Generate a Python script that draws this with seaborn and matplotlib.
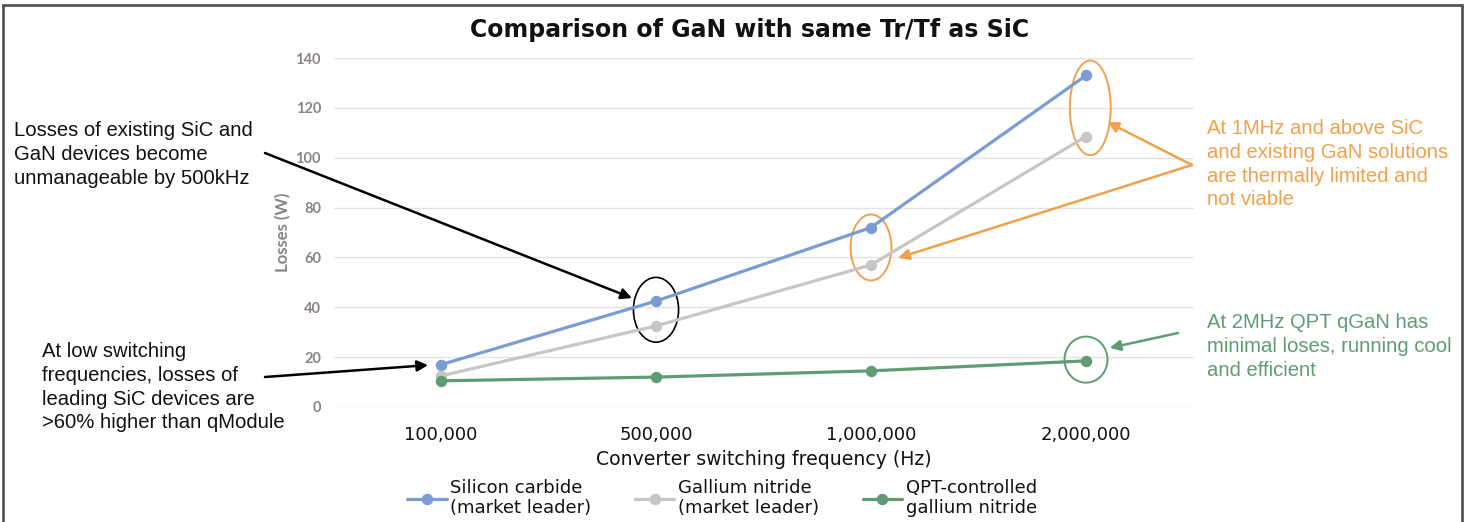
import pandas as pd
import matplotlib.pyplot as plt
import seaborn as sns
from matplotlib.patches import Ellipse, Rectangle

# data
freq_labels = ["100,000", "500,000", "1,000,000", "2,000,000"]
sic_losses = [17, 42.5, 72, 133]
gan_losses = [12.5, 32.5, 57, 108.5]
qpt_losses = [10.5, 12, 14.5, 18.5]
series_names = ["Silicon carbide\n(market leader)",
                "Gallium nitride\n(market leader)",
                "QPT-controlled\ngallium nitride"]
series_colors = ["#7b9cd2", "#c9c5c4", "#5f9c74"]

orange = "#f0a14c"
green = "#5f9c74"

df = pd.DataFrame({
    "freq": freq_labels * 3,
    "loss": sic_losses + gan_losses + qpt_losses,
    "series": [series_names[0]] * 4 + [series_names[1]] * 4 + [series_names[2]] * 4,
})

sns.set_theme(style="white")
plt.rcParams["font.family"] = ["DejaVu Sans"]
plt.rcParams["text.color"] = "#111111"
plt.rcParams["axes.labelcolor"] = "#111111"
plt.rcParams["xtick.color"] = "#111111"

W, H = 1469, 522
fig = plt.figure(figsize=(W / 100, H / 100), dpi=100)
ax = fig.add_axes([333.5 / W, 1 - 407 / H, 860 / W, 349 / H])

sns.pointplot(data=df, x="freq", y="loss", hue="series", order=freq_labels,
              hue_order=series_names, palette=series_colors, markers="o",
              markersize=6.5, linewidth=2.3, errorbar=None, ax=ax)

ax.set_ylim(0, 140)
ax.set_xlim(-0.5, 3.5)
ax.set_yticks(range(0, 141, 20))
ax.yaxis.grid(True, color="#e2e2e2", lw=1)
ax.set_axisbelow(True)
for s in ax.spines.values():
    s.set_visible(False)
ax.tick_params(axis="y", length=0, pad=9, labelsize=10.5, labelcolor="#8a8584")
for t in ax.get_yticklabels():
    t.set_fontfamily("Lato")
    t.set_fontweight("bold")
ax.tick_params(axis="x", length=0, pad=14, labelsize=13)
ax.set_xlabel("Converter switching frequency (Hz)", fontsize=13.6, labelpad=4)
ax.set_ylabel("Losses (W)", fontsize=12, color="#8a8584", fontweight="bold",
              fontfamily="Lato", labelpad=3)

handles, labels = ax.get_legend_handles_labels()
ax.get_legend().remove()
fig.legend(handles, labels, loc="center", bbox_to_anchor=(722 / W, 1 - 498 / H),
           ncol=3, frameon=False, fontsize=13, handlelength=2.2,
           columnspacing=2.4, handletextpad=0.2, labelspacing=0.1)

fig.text(750 / W, 1 - 30 / H, "Comparison of GaN with same Tr/Tf as SiC",
         ha="center", va="center", fontsize=17, fontweight="bold")

# ellipses around points of interest
ax.add_patch(Ellipse((1, 39), 0.21, 26, fill=False, ec="black", lw=1.2))
ax.add_patch(Ellipse((2, 64), 0.19, 26.5, fill=False, ec=orange, lw=1.4))
ax.add_patch(Ellipse((3.02, 120), 0.19, 38, fill=False, ec=orange, lw=1.4))
ax.add_patch(Ellipse((3.0, 19), 0.2, 18.5, fill=False, ec=green, lw=1.4))

def arrow(head, tail_px, color):
    ax.annotate("", xy=head, xycoords="data",
                xytext=(tail_px[0] / W, 1 - tail_px[1] / H), textcoords="figure fraction",
                arrowprops=dict(arrowstyle="-|>", color=color, lw=1.8,
                                mutation_scale=16, shrinkA=0, shrinkB=0),
                annotation_clip=False)

arrow((0.888, 43.7), (265, 153), "black")
arrow((-0.06, 16.8), (265, 377), "black")
arrow((3.10, 114.3), (1192, 165), orange)
arrow((2.126, 59.8), (1192, 165), orange)
arrow((3.11, 23.7), (1178, 333), green)

note_font = ["Liberation Sans", "DejaVu Sans"]
note_size = 14.6
note_ls = 1.32
fig.text(14 / W, 1 - 121 / H,
         "Losses of existing SiC and\nGaN devices become\nunmanageable by 500kHz",
         ha="left", va="top", fontsize=note_size, family=note_font, linespacing=note_ls)
fig.text(42 / W, 1 - 342 / H,
         "At low switching\nfrequencies, losses of\nleading SiC devices are\n>60% higher than qModule",
         ha="left", va="top", fontsize=note_size, family=note_font, linespacing=note_ls)
fig.text(1207 / W, 1 - 119 / H,
         "At 1MHz and above SiC\nand existing GaN solutions\nare thermally limited and\nnot viable",
         ha="left", va="top", fontsize=note_size, family=note_font, color=orange,
         linespacing=note_ls)
fig.text(1207 / W, 1 - 313 / H,
         "At 2MHz QPT qGaN has\nminimal loses, running cool\nand efficient",
         ha="left", va="top", fontsize=note_size, family=note_font, color=green,
         linespacing=note_ls)

# outer frame of the picture
fig.patches.append(Rectangle((3 / W, -0.05), 1459 / W, 1.05 - 5 / H,
                             transform=fig.transFigure, fill=False,
                             ec="#555555", lw=2))

fig.savefig("out.png", dpi=100)
